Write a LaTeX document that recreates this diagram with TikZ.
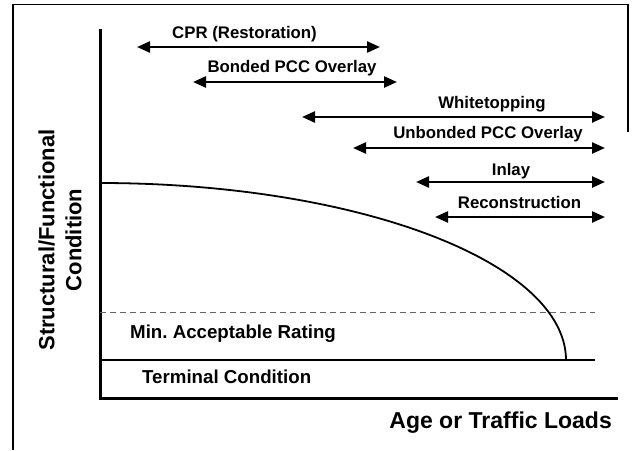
\documentclass[tikz,border=0pt]{standalone}
\usepackage{fontspec}
\setmainfont{Liberation Sans}
\usetikzlibrary{arrows.meta}
\begin{document}
\frenchspacing
\begin{tikzpicture}[x=1pt,y=-1pt,
  span/.style={line width=2.4pt,{Triangle[length=13pt,width=11pt]}-{Triangle[length=13pt,width=11pt]}},
  lab/.style={font=\fontsize{16.8}{20}\selectfont\bfseries, anchor=base, inner sep=0pt},
  biglab/.style={font=\fontsize{18.7}{22}\selectfont\bfseries, anchor=base west, inner sep=0pt},
  axis/.style={line width=3pt, line join=miter},
]
\useasboundingbox (0,0) rectangle (634,450);
% frame
\draw[line width=1.5pt] (13,450) -- (13,4.5) -- (628,4.5) -- (628,132);
% axes
\coordinate (ytop) at (100,29);
\coordinate (origin) at (100,398);
\coordinate (xend) at (618,398);
\draw[axis] (ytop) -- (origin) -- (xend);
% reference lines
\coordinate (minL) at (100,312);
\coordinate (minR) at (595,312);
\coordinate (termL) at (100,360);
\coordinate (termR) at (595,360);
\draw[black!60, line width=1pt, dash pattern=on 6pt off 4pt] (minL) -- (minR);
\draw[line width=1.2pt] (termL) -- (termR);
% deterioration curve
\draw[line width=1.8pt] plot[domain=0:90,samples=90,smooth] ({100+466*sin(\x)},{360-177*cos(\x)});
% treatment spans
\coordinate (cprL) at (137,47);   \coordinate (cprR) at (380,47);
\coordinate (bonL) at (193,82);   \coordinate (bonR) at (397,82);
\coordinate (whiL) at (302,117);  \coordinate (whiR) at (605,117);
\coordinate (unbL) at (353,148);  \coordinate (unbR) at (605,148);
\coordinate (inlL) at (416,182);  \coordinate (inlR) at (605,182);
\coordinate (recL) at (435,217);  \coordinate (recR) at (605,217);
\draw[span] (cprL) -- (cprR);
\draw[span] (bonL) -- (bonR);
\draw[span] (whiL) -- (whiR);
\draw[span] (unbL) -- (unbR);
\draw[span] (inlL) -- (inlR);
\draw[span] (recL) -- (recR);
\node[lab] (cpr) at (244.5,38) {CPR (Restoration)};
\node[lab] (bon) at (292,72) {Bonded PCC Overlay};
\node[lab] (whi) at (492,108) {Whitetopping};
\node[lab] (unb) at (488,138) {Unbonded PCC Overlay};
\node[lab] (inl) at (511,175) {Inlay};
\node[lab] (rec) at (519.5,208) {Reconstruction};
% region labels
\node[biglab] (minlab) at (130,338) {Min.\ Acceptable Rating};
\node[biglab] (termlab) at (142,383) {Terminal Condition};
% axis labels
\node[anchor=base east, inner sep=0pt, font=\fontsize{23}{27}\selectfont\bfseries] (xlab) at (612,428) {Age or Traffic Loads};
\node[rotate=90, align=center, inner sep=0pt, font=\fontsize{22}{27}\selectfont\bfseries] (ylab) at (60,240) {Structural/Functional\\Condition};
\end{tikzpicture}
\end{document}
